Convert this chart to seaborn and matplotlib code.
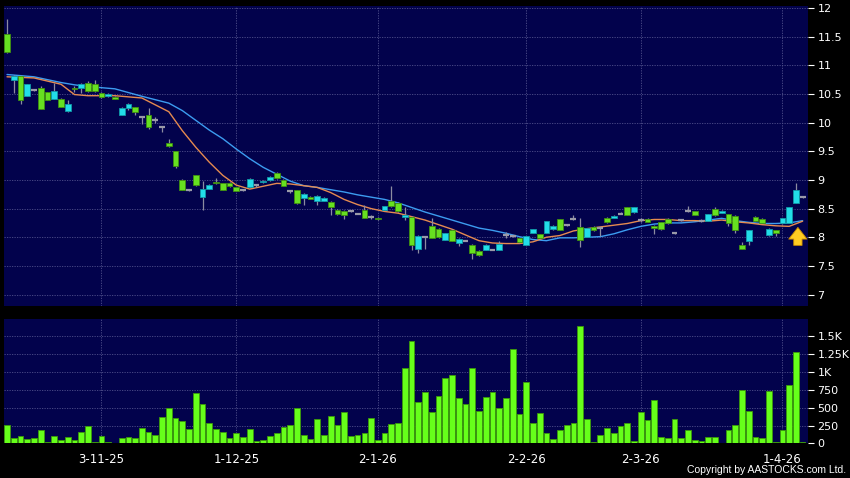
import numpy as np
import pandas as pd
import matplotlib.pyplot as plt
import seaborn as sns

# daily OHLC (one entry per trading day, oldest first)
opens = [11.55, 10.75, 10.81, 10.47, 10.57, 10.61, 10.53, 10.42, 10.42, 10.21,
         10.61, 10.61, 10.69, 10.67, 10.52, 10.46, 10.45, 10.14, 10.26, 10.27,
         10.09, 10.14, 10.05, 9.92, 9.65, 9.50, 9.00, 8.82, 9.08, 8.70,
         8.85, 8.97, 8.94, 8.95, 8.87, 8.82, 8.87, 8.92, 8.96, 9.00,
         9.12, 9.00, 8.80, 8.82, 8.69, 8.71, 8.64, 8.64, 8.62, 8.47,
         8.45, 8.45, 8.41, 8.47, 8.35, 8.34, 8.48, 8.63, 8.60, 8.35,
         8.36, 7.80, 8.01, 8.20, 8.15, 7.96, 8.13, 7.90, 7.94, 7.87,
         7.76, 7.78, 7.78, 7.78, 8.04, 8.02, 7.98, 7.87, 8.08, 8.05,
         8.08, 8.14, 8.31, 8.21, 8.31, 8.18, 8.01, 8.18, 8.16, 8.34,
         8.34, 8.41, 8.52, 8.44, 8.30, 8.32, 8.20, 8.26, 8.32, 8.07,
         8.30, 8.45, 8.45, 8.29, 8.29, 8.50, 8.43, 8.40, 8.37, 7.87,
         7.93, 8.36, 8.32, 8.04, 8.12, 8.24, 8.25, 8.60, 8.70]
highs = [11.81, 10.83, 10.84, 10.68, 10.58, 10.64, 10.54, 10.69, 10.43, 10.39,
         10.64, 10.69, 10.72, 10.74, 10.53, 10.51, 10.46, 10.27, 10.34, 10.28,
         10.10, 10.25, 10.09, 9.93, 9.72, 9.51, 9.01, 8.83, 9.09, 8.99,
         8.93, 9.03, 8.95, 8.96, 8.88, 8.83, 9.03, 8.93, 9.00, 9.07,
         9.13, 9.01, 8.81, 8.83, 8.77, 8.72, 8.73, 8.70, 8.63, 8.49,
         8.47, 8.48, 8.42, 8.56, 8.38, 8.35, 8.55, 8.89, 8.61, 8.53,
         8.37, 8.04, 8.03, 8.33, 8.16, 8.08, 8.14, 7.98, 7.96, 7.88,
         7.77, 7.88, 7.80, 7.93, 8.09, 8.04, 7.99, 8.03, 8.15, 8.06,
         8.29, 8.21, 8.32, 8.23, 8.38, 8.33, 8.17, 8.19, 8.17, 8.35,
         8.38, 8.44, 8.53, 8.53, 8.34, 8.33, 8.21, 8.27, 8.33, 8.08,
         8.31, 8.55, 8.46, 8.31, 8.41, 8.52, 8.47, 8.41, 8.38, 7.92,
         8.13, 8.37, 8.33, 8.16, 8.13, 8.34, 8.53, 8.94, 8.72]
lows = [11.21, 10.51, 10.32, 10.46, 10.55, 10.23, 10.39, 10.41, 10.27, 10.19,
        10.53, 10.51, 10.54, 10.54, 10.43, 10.45, 10.41, 10.13, 10.22, 10.14,
        9.98, 9.89, 9.99, 9.84, 9.58, 9.20, 8.82, 8.80, 8.90, 8.48,
        8.84, 8.93, 8.82, 8.88, 8.80, 8.80, 8.86, 8.87, 8.95, 8.99,
        9.02, 8.89, 8.77, 8.58, 8.56, 8.66, 8.57, 8.63, 8.38, 8.39,
        8.32, 8.44, 8.40, 8.33, 8.31, 8.30, 8.47, 8.53, 8.44, 8.30,
        7.78, 7.72, 7.80, 7.98, 7.99, 7.95, 7.93, 7.84, 7.93, 7.62,
        7.68, 7.77, 7.77, 7.77, 7.99, 8.00, 7.90, 7.86, 8.07, 7.97,
        8.07, 8.13, 8.12, 8.20, 8.30, 7.83, 8.00, 8.11, 8.02, 8.25,
        8.33, 8.40, 8.38, 8.43, 8.26, 8.26, 8.06, 8.13, 8.23, 8.06,
        8.28, 8.44, 8.38, 8.27, 8.28, 8.37, 8.42, 8.20, 8.08, 7.79,
        7.86, 8.28, 8.24, 8.03, 8.03, 8.23, 8.24, 8.59, 8.69]
closes = [11.23, 10.81, 10.39, 10.67, 10.57, 10.24, 10.40, 10.56, 10.28, 10.32,
          10.58, 10.68, 10.55, 10.55, 10.44, 10.50, 10.42, 10.26, 10.33, 10.19,
          10.09, 9.92, 10.05, 9.92, 9.59, 9.24, 8.83, 8.82, 8.92, 8.84,
          8.92, 8.94, 8.83, 8.89, 8.81, 8.82, 9.02, 8.92, 8.99, 9.06,
          9.03, 8.90, 8.80, 8.59, 8.76, 8.67, 8.72, 8.69, 8.52, 8.40,
          8.38, 8.45, 8.41, 8.34, 8.35, 8.31, 8.54, 8.54, 8.45, 8.38,
          7.87, 8.03, 8.01, 7.99, 8.00, 8.07, 7.94, 7.97, 7.94, 7.73,
          7.69, 7.87, 7.78, 7.89, 8.04, 8.02, 7.91, 8.02, 8.14, 7.98,
          8.28, 8.20, 8.13, 8.21, 8.31, 7.96, 8.16, 8.12, 8.16, 8.26,
          8.37, 8.41, 8.39, 8.52, 8.30, 8.27, 8.17, 8.14, 8.24, 8.07,
          8.30, 8.45, 8.39, 8.29, 8.40, 8.38, 8.46, 8.24, 8.12, 7.80,
          8.12, 8.29, 8.25, 8.15, 8.07, 8.33, 8.52, 8.82, 8.70]
volume = [255, 79, 102, 60, 74, 190, 18, 102, 51, 93,
          51, 157, 240, 18, 106, 14, 5, 74, 88, 79,
          213, 157, 120, 366, 495, 356, 315, 199, 708, 546,
          287, 204, 167, 83, 144, 97, 204, 32, 51, 111,
          153, 231, 259, 495, 116, 69, 338, 120, 389, 259,
          435, 111, 120, 148, 352, 51, 144, 269, 282, 1056,
          1435, 574, 718, 440, 657, 917, 958, 630, 551, 1056,
          454, 644, 713, 495, 630, 1324, 412, 857, 287, 431,
          148, 69, 185, 255, 292, 1644, 347, 18, 120, 213,
          148, 250, 287, 32, 440, 333, 606, 88, 79, 343,
          79, 185, 51, 37, 93, 93, 9, 185, 255, 750,
          449, 88, 83, 727, 18, 190, 824, 1278, 14]

# moving average lines at these day positions
ma_days = [0, 4, 8, 10, 12, 16, 20, 24, 26, 28, 30, 32, 34, 36, 38, 40, 42, 44,
           46, 48, 50, 52, 54, 56, 58, 60, 62, 64, 66, 68, 70, 72, 74, 76, 78,
           80, 82, 84, 86, 88, 90, 92, 94, 96, 98, 100, 102, 104, 106, 108,
           110, 112, 114, 116, 118]
ma10 = [10.80, 10.78, 10.67, 10.49, 10.47, 10.47, 10.43, 10.19, 9.86, 9.57,
        9.31, 9.08, 8.91, 8.84, 8.89, 8.94, 8.93, 8.90, 8.87, 8.78,
        8.66, 8.57, 8.50, 8.45, 8.42, 8.36, 8.30, 8.22, 8.14, 8.04,
        7.94, 7.90, 7.89, 7.89, 7.92, 8.00, 8.03, 8.11, 8.15, 8.18,
        8.21, 8.24, 8.29, 8.31, 8.31, 8.29, 8.29, 8.28, 8.30, 8.27,
        8.25, 8.22, 8.20, 8.19, 8.28]
ma20 = [10.84, 10.80, 10.70, 10.66, 10.63, 10.59, 10.46, 10.34, 10.21, 10.04,
        9.87, 9.72, 9.54, 9.37, 9.22, 9.10, 8.98, 8.90, 8.87, 8.83,
        8.79, 8.74, 8.70, 8.66, 8.60, 8.52, 8.44, 8.37, 8.30, 8.23,
        8.16, 8.12, 8.07, 8.01, 7.96, 7.94, 7.99, 7.99, 8.00, 8.01,
        8.06, 8.13, 8.19, 8.23, 8.25, 8.25, 8.27, 8.30, 8.33, 8.29,
        8.26, 8.24, 8.24, 8.25, 8.29]

date_days = [14, 34, 55, 77, 94, 115]
date_labels = ["3-11-25", "1-12-25", "2-1-26", "2-2-26", "2-3-26", "1-4-26"]
price_ticks = [7, 7.5, 8, 8.5, 9, 9.5, 10, 10.5, 11, 11.5, 12]
price_labels = ["7", "7.5", "8", "8.5", "9", "9.5", "10", "10.5", "11", "11.5", "12"]
vol_ticks = [0, 250, 500, 750, 1000, 1250, 1500]
vol_labels = ["0", "250", "500", "750", "1K", "1.25K", "1.5K"]

NAVY = "#02024c"
GRID = "#50508c"
UP = "#22dde8"
DOWN = "#66e020"
FLAT = "#9a9aa8"
WICK = "#8c8ca0"

sns.set_style("dark")
plt.rcParams["font.family"] = ["DejaVu Sans"]

df = pd.DataFrame({"day": np.arange(len(closes)), "open": opens, "high": highs,
                   "low": lows, "close": closes, "volume": volume})
ma = pd.DataFrame({"day": ma_days, "ma10": ma10, "ma20": ma20})

fig = plt.figure(figsize=(8.5, 4.78), dpi=100, facecolor="black")
ax = fig.add_axes([0.0047, 0.3598, 0.9455, 0.6276])
axv = fig.add_axes([0.0047, 0.0722, 0.9455, 0.2604])

for a in (ax, axv):
    a.set_facecolor(NAVY)
    for s in a.spines.values():
        s.set_visible(False)

# moving averages (behind candles)
sns.lineplot(data=ma, x="day", y="ma20", ax=ax, color="#3c9cf0", lw=1.0, zorder=2)
sns.lineplot(data=ma, x="day", y="ma10", ax=ax, color="#e58a50", lw=1.0, zorder=2)

# candles
up = df[df.close > df.open]
dn = df[df.close < df.open]
fl = df[df.close == df.open]
ax.vlines(df.day, df.low, df.high, color=WICK, lw=0.9, zorder=3)
ax.bar(up.day, up.close - up.open, bottom=up.open, width=0.85,
       color=UP, edgecolor="#109aa8", lw=0.6, zorder=4)
ax.bar(dn.day, dn.open - dn.close, bottom=dn.close, width=0.85,
       color=DOWN, edgecolor="#3f8f10", lw=0.6, zorder=4)
ax.hlines(fl.close, fl.day - 0.43, fl.day + 0.43, color=FLAT, lw=1.6, zorder=4)

# yellow marker arrow at the latest bar
last = len(closes) - 1
ax.annotate("", xy=(last - 0.7, ma10[-1] - 0.06), xytext=(last - 0.7, ma10[-1] - 0.47),
            arrowprops=dict(arrowstyle="simple,head_length=0.7,head_width=1.1,tail_width=0.5",
                            fc="#ffcc22", ec="#c98a00", lw=0.6, mutation_scale=12),
            zorder=6)

ax.set_xlim(-0.45, 118.75)
ax.set_ylim(6.80, 12.035)
ax.set_xticks(date_days)
ax.set_xticklabels([])
ax.set_yticks(price_ticks)
ax.set_yticklabels(price_labels)
ax.yaxis.tick_right()
ax.tick_params(axis="x", length=0)
ax.tick_params(axis="y", colors="white", labelcolor="white", length=4, width=0.8,
               direction="out", pad=3, labelsize=8, right=True, left=False)
ax.set_xlabel("")
ax.set_ylabel("")
ax.grid(True, color=GRID, ls=(0, (1.5, 1.5)), lw=0.6)

# volume
sns.barplot(data=df, x="day", y="volume", ax=axv, native_scale=True, width=0.85,
            color="#66ff1a", saturation=1, edgecolor="#3c9a0a", linewidth=0.6, zorder=3)
axv.set_xlim(-0.45, 118.75)
axv.set_ylim(0, 1740)
axv.set_xticks(date_days)
axv.set_xticklabels(date_labels)
axv.set_yticks(vol_ticks)
axv.set_yticklabels(vol_labels)
axv.yaxis.tick_right()
axv.tick_params(axis="y", colors="white", labelcolor="white", length=4, width=0.8,
                direction="out", pad=3, labelsize=8, right=True, left=False)
axv.tick_params(axis="x", colors="white", labelcolor="white", length=4, width=0.8,
                direction="out", pad=3, labelsize=8.5)
axv.set_xlabel("")
axv.set_ylabel("")
axv.grid(True, color=GRID, ls=(0, (1.5, 1.5)), lw=0.6)
axv.set_axisbelow(True)

fig.text(0.995, 0.006, "Copyright by AASTOCKS.com Ltd.", ha="right", va="bottom",
         color="white", fontsize=7.5, family=["Liberation Sans", "DejaVu Sans"])

fig.savefig("out.png", dpi=100, facecolor="black")
